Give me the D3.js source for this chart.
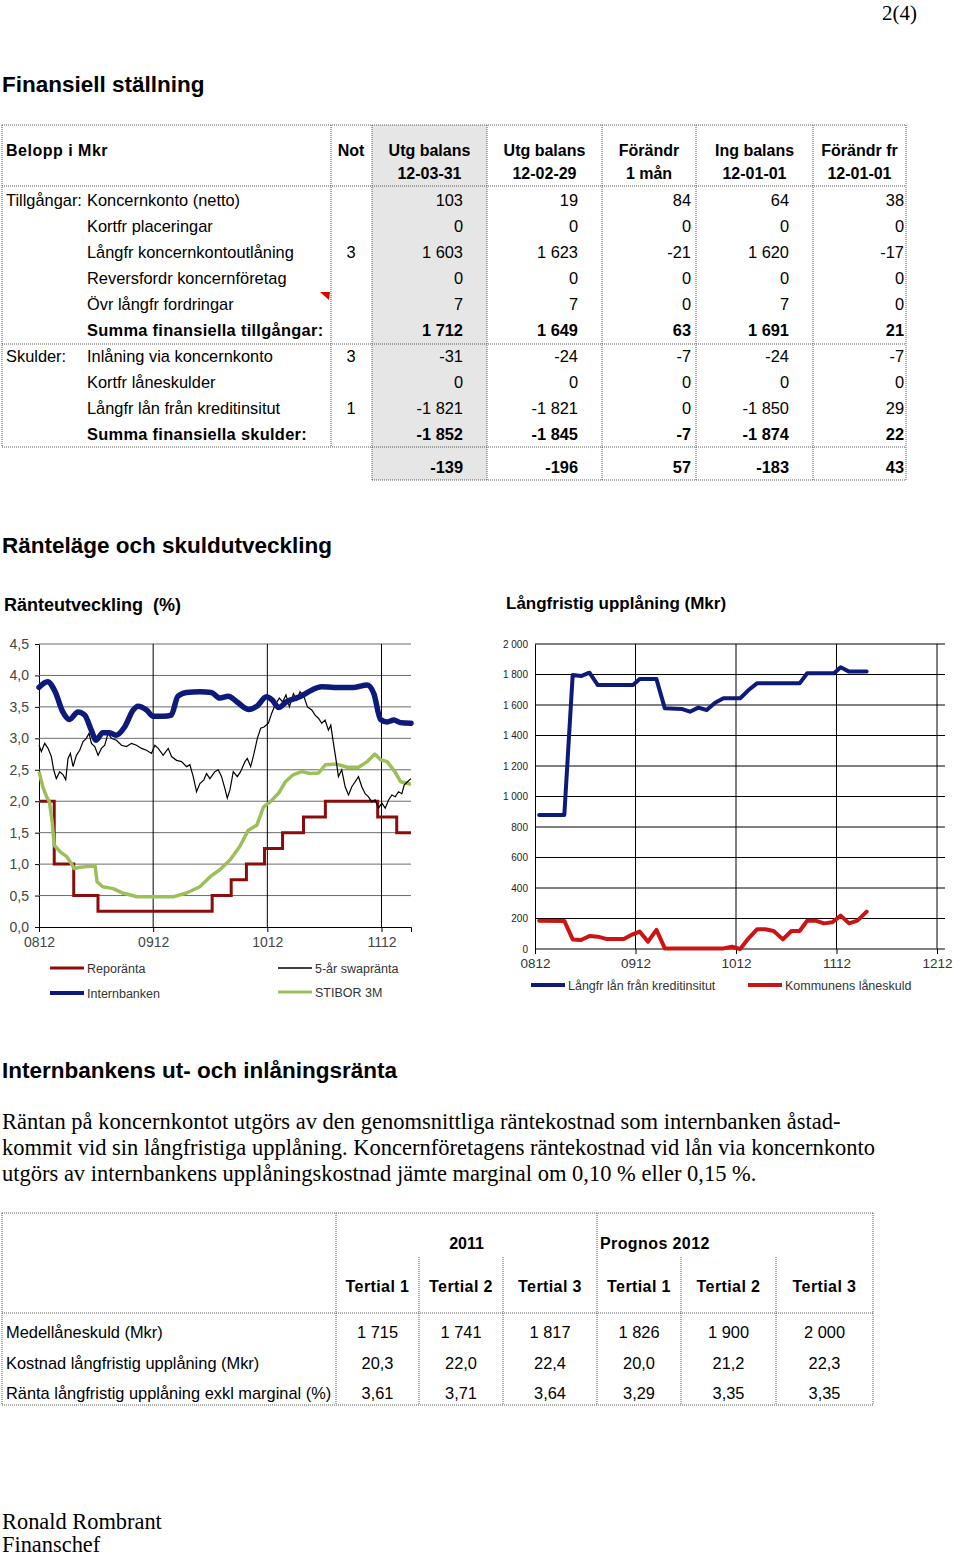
<!DOCTYPE html>
<html>
<head>
<meta charset="utf-8">
<script src="https://cdn.jsdelivr.net/npm/d3@7"></script>
<style>
  body { margin: 0; background: #fff; }
  svg { display: block; }
  text { font-family: "Liberation Sans", Arial, sans-serif; fill: #000; }
  .serif { font-family: "Liberation Serif", "Times New Roman", serif; }
</style>
</head>
<body>
<div id="page"></div>
<script>
// ---- top table: Finansiell ställning ----
var headLine1 = ["Utg balans", "Utg balans", "Förändr", "Ing balans", "Förändr fr"];
var headLine2 = ["12-03-31", "12-02-29", "1 mån", "12-01-01", "12-01-01"];
var rowGroups = ["Tillgångar:", "", "", "", "", "", "Skulder:", "", "", ""];
var rowLabels = ["Koncernkonto (netto)", "Kortfr placeringar", "Långfr koncernkontoutlåning",
  "Reversfordr koncernföretag", "Övr långfr fordringar", "Summa finansiella tillgångar:",
  "Inlåning via koncernkonto", "Kortfr låneskulder", "Långfr lån från kreditinsitut",
  "Summa finansiella skulder:"];
var rowNotes = ["", "", "3", "", "", "", "3", "", "1", ""];
var sumRows = [5, 9];
var utg120331 = [103, 0, 1603, 0, 7, 1712, -31, 0, -1821, -1852];
var utg120229 = [19, 0, 1623, 0, 7, 1649, -24, 0, -1821, -1845];
var forandr1man = [84, 0, -21, 0, 0, 63, -7, 0, 0, -7];
var ing120101 = [64, 0, 1620, 0, 7, 1691, -24, 0, -1850, -1874];
var forandrFr = [38, 0, -17, 0, 0, 21, -7, 0, 29, 22];
var nettoRow = [-139, -196, 57, -183, 43];

// ---- Ränteutveckling (%) : x in months from 0812 ----
var rateTicks = ["0812", "0912", "1012", "1112"];
var repoMonths = [0, 1.6, 3.65, 6.2, 18.2, 20.2, 21.8, 23.7, 25.6, 27.8, 30.1, 35.6, 37.6, 39.1];
var repoValues = [2.0, 1.0, 0.5, 0.25, 0.5, 0.75, 1.0, 1.25, 1.5, 1.75, 2.0, 1.75, 1.5, 1.5];

var ibMonths = [0, 0.9, 1.7, 2.5, 3.2, 4.1, 4.8, 5.5, 6.0, 6.7, 7.4, 8.1, 9.0, 9.9, 10.4,
  11.3, 12.0, 13.1, 13.9, 14.6, 15.5, 16.9, 18.1, 19.0, 19.9, 20.8, 22.0, 22.9, 23.9, 24.5,
  25.2, 26.0, 27.4, 28.7, 29.7, 31.0, 33.1, 34.5, 35.2, 35.9, 36.6, 37.3, 38.0, 39.1];
var ibValues = [3.81, 3.90, 3.74, 3.42, 3.30, 3.42, 3.37, 3.13, 2.97, 3.09, 3.09, 3.05, 3.18, 3.45, 3.51,
  3.45, 3.35, 3.35, 3.37, 3.67, 3.73, 3.74, 3.73, 3.64, 3.67, 3.58, 3.46, 3.51, 3.66, 3.61,
  3.49, 3.58, 3.66, 3.77, 3.82, 3.81, 3.81, 3.85, 3.71, 3.30, 3.26, 3.29, 3.25, 3.24];

var stiborMonths = [0, 0.4, 0.8, 1.1, 1.4, 1.6, 2.2, 2.9, 3.4, 3.7,
  4.3, 5.0, 5.9, 6.1, 6.7, 7.8, 8.8, 10.3, 12.0, 14.1,
  15.5, 16.9, 18.0, 19.0, 20.1, 21.1, 22.0, 22.9, 23.6, 24.3,
  25.2, 25.9, 26.7, 27.6, 28.5, 29.4, 30.1, 31.3, 32.4, 33.6,
  34.5, 35.3, 35.9, 36.6, 37.4, 38.0, 39.1];
var stiborValues = [2.47, 2.23, 2.07, 1.99, 1.65, 1.30, 1.20, 1.12, 1.01, 0.93,
  0.95, 0.96, 0.97, 0.72, 0.64, 0.61, 0.54, 0.48, 0.48, 0.48,
  0.54, 0.64, 0.80, 0.91, 1.07, 1.28, 1.54, 1.62, 1.91, 1.99,
  2.13, 2.31, 2.42, 2.47, 2.44, 2.45, 2.58, 2.59, 2.54, 2.54,
  2.63, 2.75, 2.66, 2.63, 2.47, 2.31, 2.27];

var swapMonths = [0.0, 0.25, 0.6, 0.95, 1.3, 1.54, 1.82, 2.18, 2.53, 2.81,
  3.05, 3.3, 3.58, 3.93, 4.28, 4.63, 4.98, 5.26, 5.51, 5.86,
  6.21, 6.56, 6.91, 7.26, 7.61, 8.14, 8.67, 9.19, 9.72, 10.25,
  10.77, 11.3, 11.82, 12.18, 12.53, 13.05, 13.58, 13.93, 14.46, 14.98,
  15.51, 15.86, 16.21, 16.56, 16.91, 17.33, 17.61, 17.96, 18.49, 18.84,
  19.19, 19.54, 19.79, 20.07, 20.42, 20.84, 21.19, 21.65, 21.89, 22.25,
  22.6, 22.95, 23.3, 23.65, 24.11, 24.46, 24.81, 25.26, 25.61, 25.96,
  26.32, 26.74, 27.09, 27.44, 27.86, 28.21, 28.67, 29.02, 29.37, 29.72,
  30.07, 30.42, 30.67, 30.95, 31.23, 31.47, 31.82, 32.18, 32.53, 32.88,
  33.23, 33.58, 33.93, 34.28, 34.63, 34.98, 35.33, 35.68, 36.04, 36.39,
  36.74, 37.09, 37.44, 37.79, 38.14, 38.39, 38.74, 39.09];
var swapValues = [2.89, 2.79, 2.92, 2.84, 2.71, 2.50, 2.36, 2.47, 2.42, 2.34,
  2.68, 2.76, 2.55, 2.73, 2.81, 2.95, 3.00, 3.08, 2.92, 2.87,
  2.73, 2.84, 2.89, 3.08, 3.00, 2.97, 2.89, 2.87, 2.92, 2.89,
  2.84, 2.81, 2.76, 2.89, 2.84, 2.73, 2.84, 2.71, 2.65, 2.63,
  2.55, 2.58, 2.39, 2.15, 2.28, 2.34, 2.44, 2.36, 2.47, 2.50,
  2.39, 2.20, 2.05, 2.18, 2.47, 2.39, 2.47, 2.63, 2.68, 2.55,
  2.76, 3.00, 3.16, 3.18, 3.24, 3.40, 3.53, 3.64, 3.58, 3.69,
  3.50, 3.71, 3.61, 3.74, 3.66, 3.50, 3.45, 3.37, 3.32, 3.24,
  3.29, 3.13, 3.21, 2.92, 2.65, 2.39, 2.50, 2.23, 2.10, 2.23,
  2.31, 2.39, 2.23, 2.12, 2.07, 1.99, 2.02, 1.89, 1.97, 1.89,
  2.02, 2.10, 2.07, 2.15, 2.12, 2.26, 2.31, 2.36];

// ---- Långfristig upplåning (Mkr) ----
var loanTicks = ["0812", "0912", "1012", "1112", "1212"];
var kreditMonths = [0.5, 3.5, 4.5, 5.5, 6.5, 7.5, 11.7, 12.5, 14.5, 15.5, 17.5, 18.5, 19.5,
  20.5, 21.5, 22.5, 24.5, 25.5, 26.5, 31.6, 32.5, 35.7, 36.5, 37.5, 39.6];
var kreditValues = [879, 879, 1797, 1790, 1812, 1731, 1731, 1770, 1770, 1578, 1574, 1556, 1583,
  1567, 1615, 1644, 1644, 1698, 1742, 1742, 1808, 1808, 1847, 1819, 1819];
var skuldMonths = [0.5, 3.5, 4.5, 5.5, 6.5, 7.5, 8.5, 10.6, 11.5, 12.5, 13.5, 14.5, 15.5, 22.5,
  23.5, 24.5, 25.5, 26.5, 27.5, 28.5, 29.6, 30.6, 31.6, 32.5, 33.5, 34.5, 35.5, 36.5, 37.5, 38.5, 39.6];
var skuldValues = [186, 184, 63, 59, 85, 81, 66, 66, 92, 114, 48, 125, 4, 4,
  15, 0, 70, 129, 129, 118, 63, 118, 118, 186, 186, 168, 175, 219, 168, 186, 245];

// ---- bottom table ----
var yearHeads = ["2011", "Prognos 2012"];
var tertials = ["Tertial 1", "Tertial 2", "Tertial 3", "Tertial 1", "Tertial 2", "Tertial 3"];
var costLabels = ["Medellåneskuld (Mkr)", "Kostnad långfristig upplåning (Mkr)",
  "Ränta långfristig upplåning exkl marginal (%)"];
var medelSkuld = [1715, 1741, 1817, 1826, 1900, 2000];
var kostnad = [20.3, 22.0, 22.4, 20.0, 21.2, 22.3];
var rantaExkl = [3.61, 3.71, 3.64, 3.29, 3.35, 3.35];

var paragraph = [
  "Räntan på koncernkontot utgörs av den genomsnittliga räntekostnad som internbanken åstad-",
  "kommit vid sin långfristiga upplåning. Koncernföretagens räntekostnad vid lån via koncernkonto",
  "utgörs av internbankens upplåningskostnad jämte marginal om 0,10 % eller 0,15 %."
];

var se = d3.formatLocale({decimal: ",", thousands: " ", grouping: [3], currency: ["", ""], minus: "-"});
var fmtInt = se.format(",d");
var fmt1 = se.format(",.1f");
var fmt2 = se.format(",.2f");

var bodySize = '16.4px';

var svg = d3.select('#page').append('svg')
  .attr('width', 960)
  .attr('height', 1558);

var dot = {stroke: "#555", dash: "1,1"};
function hline(g, x1, x2, y) {
  g.append('line').attr('x1', x1).attr('x2', x2).attr('y1', y).attr('y2', y)
    .attr('stroke', dot.stroke).attr('stroke-dasharray', dot.dash);
}
function vline(g, x, y1, y2) {
  g.append('line').attr('x1', x).attr('x2', x).attr('y1', y1).attr('y2', y2)
    .attr('stroke', dot.stroke).attr('stroke-dasharray', dot.dash);
}

// page number + headings
svg.append('text').attr('class', 'serif').attr('x', 917).attr('y', 20)
  .attr('text-anchor', 'end').style('font-size', '21px').text('2(4)');

function heading(t, y) {
  svg.append('text').attr('x', 2).attr('y', y)
    .style('font-size', '22.5px').style('font-weight', 'bold').text(t);
}
heading('Finansiell ställning', 92);
heading('Ränteläge och skuldutveckling', 553);
heading('Internbankens ut- och inlåningsränta', 1078);

// ================= table 1 =================
var t1 = svg.append('g');
var colEdges = [372, 487, 602, 696, 813, 906];
var numRight = [463, 578, 691, 789, 904];
var rowY = d3.scaleLinear().domain([0, 1]).range([206, 232]);

t1.append('rect').attr('x', colEdges[0]).attr('y', 125)
  .attr('width', colEdges[1] - colEdges[0]).attr('height', 355).attr('fill', '#e6e6e6');

hline(t1, 2, 906, 125);
hline(t1, 2, 906, 186);
hline(t1, 2, 906, 344);
hline(t1, 2, 906, 447);
hline(t1, 372, 906, 480);
vline(t1, 2, 125, 447);
vline(t1, 331, 125, 447);
colEdges.forEach(function(x) { vline(t1, x, 125, 480); });

t1.append('text').attr('x', 6).attr('y', 156)
  .style('font-size', '16px').style('font-weight', 'bold').style('letter-spacing', '0.5px')
  .text('Belopp i Mkr');
t1.append('text').attr('x', 351).attr('y', 156).attr('text-anchor', 'middle')
  .style('font-size', '16px').style('font-weight', 'bold').text('Not');

t1.selectAll('.h1').data(headLine1).enter().append('text')
  .attr('x', function(d, i) { return (colEdges[i] + colEdges[i + 1]) / 2; })
  .attr('y', 156).attr('text-anchor', 'middle')
  .style('font-size', '16px').style('font-weight', 'bold').text(function(d) { return d; });
t1.selectAll('.h2').data(headLine2).enter().append('text')
  .attr('x', function(d, i) { return (colEdges[i] + colEdges[i + 1]) / 2; })
  .attr('y', 179).attr('text-anchor', 'middle')
  .style('font-size', '16px').style('font-weight', 'bold').text(function(d) { return d; });

t1.selectAll('.grp').data(rowGroups).enter().append('text')
  .attr('x', 6).attr('y', function(d, i) { return rowY(i); })
  .style('font-size', bodySize).text(function(d) { return d; });

t1.selectAll('.lbl').data(rowLabels).enter().append('text')
  .attr('x', 87).attr('y', function(d, i) { return rowY(i); })
  .style('font-size', bodySize)
  .style('font-weight', function(d, i) { return sumRows.indexOf(i) >= 0 ? 'bold' : 'normal'; })
  .style('letter-spacing', function(d, i) { return sumRows.indexOf(i) >= 0 ? '0.3px' : '0px'; })
  .text(function(d) { return d; });

t1.selectAll('.note').data(rowNotes).enter().append('text')
  .attr('x', 351).attr('y', function(d, i) { return rowY(i); }).attr('text-anchor', 'middle')
  .style('font-size', bodySize).text(function(d) { return d; });

[utg120331, utg120229, forandr1man, ing120101, forandrFr].forEach(function(col, c) {
  t1.selectAll('.c' + c).data(col).enter().append('text')
    .attr('x', numRight[c]).attr('y', function(d, i) { return rowY(i); })
    .attr('text-anchor', 'end').style('font-size', bodySize)
    .style('font-weight', function(d, i) { return sumRows.indexOf(i) >= 0 ? 'bold' : 'normal'; })
    .text(function(d) { return fmtInt(d); });
});
t1.selectAll('.net').data(nettoRow).enter().append('text')
  .attr('x', function(d, i) { return numRight[i]; }).attr('y', 473)
  .attr('text-anchor', 'end').style('font-size', bodySize).style('font-weight', 'bold')
  .text(function(d) { return fmtInt(d); });

// comment marker
t1.append('path').attr('d', 'M320,292 L330,292 L329,300 Z').attr('fill', '#e00000');

// ================= chart 1: Ränteutveckling =================
var c1 = svg.append('g');
c1.append('text').attr('x', 4).attr('y', 611)
  .style('font-size', '18px').style('font-weight', 'bold').style('white-space', 'pre')
  .text('Ränteutveckling  (%)');

var x1 = d3.scaleLinear().domain([0, 39.1]).range([39, 411]);
var y1 = d3.scaleLinear().domain([0, 4.5]).range([927, 644]);

var yAxis1 = d3.axisLeft(y1).tickValues(d3.range(0, 4.51, 0.5)).tickSize(4)
  .tickFormat(se.format(",.1f"));
var gy1 = c1.append('g').attr('transform', 'translate(39,0)').call(yAxis1);
gy1.select('.domain').attr('stroke', '#000');
gy1.selectAll('.tick line').attr('stroke', '#000');
gy1.selectAll('.tick text').attr('x', -10).style('font-size', '14px').style('fill', '#444')
  .style('font-family', '"Liberation Sans", Arial, sans-serif');

c1.append('g').selectAll('line').data(d3.range(0.5, 4.51, 0.5)).enter().append('line')
  .attr('x1', 39).attr('x2', 411)
  .attr('y1', function(d) { return y1(d); }).attr('y2', function(d) { return y1(d); })
  .attr('stroke', '#6b6b6b').attr('stroke-width', 1);

var xAxis1 = d3.axisBottom(x1).tickValues([0, 12, 24, 36]).tickSize(5)
  .tickFormat(function(d, i) { return rateTicks[i]; });
var gx1 = c1.append('g').attr('transform', 'translate(0,927)').call(xAxis1);
gx1.select('.domain').attr('stroke', '#000');
gx1.selectAll('.tick text').attr('y', 10).style('font-size', '14px').style('fill', '#444')
  .style('font-family', '"Liberation Sans", Arial, sans-serif');

c1.append('g').selectAll('line').data([12, 24, 36]).enter().append('line')
  .attr('x1', function(d) { return x1(d); }).attr('x2', function(d) { return x1(d); })
  .attr('y1', 644).attr('y2', 927).attr('stroke', '#000');

function pairs(a, b) { return a.map(function(m, i) { return [m, b[i]]; }); }

var stepLine = d3.line().x(function(d) { return x1(d[0]); }).y(function(d) { return y1(d[1]); })
  .curve(d3.curveStepAfter);
var smooth1 = d3.line().x(function(d) { return x1(d[0]); }).y(function(d) { return y1(d[1]); })
  .curve(d3.curveMonotoneX);
var line1 = d3.line().x(function(d) { return x1(d[0]); }).y(function(d) { return y1(d[1]); });

c1.append('path').datum(pairs(repoMonths, repoValues)).attr('d', stepLine)
  .attr('fill', 'none').attr('stroke', '#8b0c0c').attr('stroke-width', 3);
c1.append('path').datum(pairs(stiborMonths, stiborValues)).attr('d', line1)
  .attr('fill', 'none').attr('stroke', '#9cbf5a').attr('stroke-width', 3.5)
  .attr('stroke-linejoin', 'round');
c1.append('path').datum(pairs(swapMonths, swapValues)).attr('d', line1)
  .attr('fill', 'none').attr('stroke', '#000').attr('stroke-width', 1.2);
c1.append('path').datum(pairs(ibMonths, ibValues)).attr('d', smooth1)
  .attr('fill', 'none').attr('stroke', '#0d1a7a').attr('stroke-width', 5.5)
  .attr('stroke-linecap', 'round');

var legend1 = [
  {name: 'Reporänta', color: '#8b0c0c', w: 3, x: 50, y: 968},
  {name: '5-år swapränta', color: '#000', w: 1.5, x: 278, y: 968},
  {name: 'Internbanken', color: '#0d1a7a', w: 4, x: 50, y: 993},
  {name: 'STIBOR 3M', color: '#9cbf5a', w: 3, x: 278, y: 992}
];
var lg1 = c1.selectAll('.lg').data(legend1).enter().append('g');
lg1.append('line').attr('x1', function(d) { return d.x; }).attr('x2', function(d) { return d.x + 34; })
  .attr('y1', function(d) { return d.y; }).attr('y2', function(d) { return d.y; })
  .attr('stroke', function(d) { return d.color; }).attr('stroke-width', function(d) { return d.w; });
lg1.append('text').attr('x', function(d) { return d.x + 37; }).attr('y', function(d) { return d.y + 4.5; })
  .style('font-size', '12.5px').style('fill', '#333').text(function(d) { return d.name; });

// ================= chart 2: Långfristig upplåning =================
var c2 = svg.append('g');
c2.append('text').attr('x', 506).attr('y', 609)
  .style('font-size', '17px').style('font-weight', 'bold').text('Långfristig upplåning (Mkr)');

var x2 = d3.scaleLinear().domain([0, 48]).range([535, 937]);
var y2 = d3.scaleLinear().domain([0, 2000]).range([949, 644]);

c2.append('g').selectAll('line').data(d3.range(200, 2001, 200)).enter().append('line')
  .attr('x1', 535).attr('x2', 945)
  .attr('y1', function(d) { return y2(d); }).attr('y2', function(d) { return y2(d); })
  .attr('stroke', '#000');
c2.append('g').selectAll('line').data([12, 24, 36, 48]).enter().append('line')
  .attr('x1', function(d) { return x2(d); }).attr('x2', function(d) { return x2(d); })
  .attr('y1', 644).attr('y2', 949).attr('stroke', '#000');

var yAxis2 = d3.axisLeft(y2).tickValues(d3.range(0, 2001, 200)).tickSize(0)
  .tickFormat(fmtInt);
var gy2 = c2.append('g').attr('transform', 'translate(535,0)').call(yAxis2);
gy2.select('.domain').attr('stroke', '#000');
gy2.selectAll('.tick text').attr('x', -7).style('font-size', '10px').style('fill', '#222')
  .style('font-family', '"Liberation Sans", Arial, sans-serif');

var xAxis2 = d3.axisBottom(x2).tickValues([0, 12, 24, 36, 48]).tickSize(5)
  .tickFormat(function(d, i) { return loanTicks[i]; });
var gx2 = c2.append('g').attr('transform', 'translate(0,949)').call(xAxis2);
gx2.select('.domain').attr('stroke', '#000').attr('d', 'M535,0H945');
gx2.selectAll('.tick text').attr('y', 9).style('font-size', '13.5px').style('fill', '#333')
  .style('font-family', '"Liberation Sans", Arial, sans-serif');

var line2 = d3.line().x(function(d) { return x2(d[0]); }).y(function(d) { return y2(d[1]); });
c2.append('path').datum(pairs(skuldMonths, skuldValues)).attr('d', line2)
  .attr('fill', 'none').attr('stroke', '#cc1414').attr('stroke-width', 4)
  .attr('stroke-linejoin', 'round').attr('stroke-linecap', 'round');
c2.append('path').datum(pairs(kreditMonths, kreditValues)).attr('d', line2)
  .attr('fill', 'none').attr('stroke', '#0d1a7a').attr('stroke-width', 4)
  .attr('stroke-linejoin', 'round').attr('stroke-linecap', 'round');

var legend2 = [
  {name: 'Långfr lån från kreditinsitut', color: '#0d1a7a', x: 531},
  {name: 'Kommunens låneskuld', color: '#cc1414', x: 748}
];
var lg2 = c2.selectAll('.lg').data(legend2).enter().append('g');
lg2.append('line').attr('x1', function(d) { return d.x; }).attr('x2', function(d) { return d.x + 34; })
  .attr('y1', 985).attr('y2', 985)
  .attr('stroke', function(d) { return d.color; }).attr('stroke-width', 4);
lg2.append('text').attr('x', function(d) { return d.x + 37; }).attr('y', 989.5)
  .style('font-size', '12.5px').style('fill', '#333').text(function(d) { return d.name; });

// ================= paragraph =================
svg.selectAll('.para').data(paragraph).enter().append('text').attr('class', 'serif')
  .attr('x', 2).attr('y', function(d, i) { return 1129 + i * 26; })
  .style('font-size', '22.5px').text(function(d) { return d; });

// ================= table 2 =================
var t2 = svg.append('g');
var tEdges = [336, 419, 503, 597, 681, 776, 873];
var rowY2 = d3.scaleLinear().domain([0, 1]).range([1338, 1368.5]);

hline(t2, 2, 873, 1213);
hline(t2, 2, 873, 1313);
hline(t2, 2, 873, 1405);
[2, 336, 597, 873].forEach(function(x) { vline(t2, x, 1213, 1405); });
[419, 503, 681, 776].forEach(function(x) { vline(t2, x, 1257, 1405); });

t2.append('text').attr('x', (tEdges[0] + tEdges[3]) / 2).attr('y', 1249).attr('text-anchor', 'middle')
  .style('font-size', '16px').style('font-weight', 'bold').text(yearHeads[0]);
t2.append('text').attr('x', 600).attr('y', 1249)
  .style('font-size', '16px').style('font-weight', 'bold').style('letter-spacing', '0.4px')
  .text(yearHeads[1]);

t2.selectAll('.tert').data(tertials).enter().append('text')
  .attr('x', function(d, i) { return (tEdges[i] + tEdges[i + 1]) / 2; }).attr('y', 1292)
  .attr('text-anchor', 'middle').style('font-size', '16px').style('font-weight', 'bold')
  .style('letter-spacing', '0.4px').text(function(d) { return d; });

t2.selectAll('.clbl').data(costLabels).enter().append('text')
  .attr('x', 6).attr('y', function(d, i) { return rowY2(i); })
  .style('font-size', bodySize).text(function(d) { return d; });

[[medelSkuld, fmtInt], [kostnad, fmt1], [rantaExkl, fmt2]].forEach(function(r, ri) {
  t2.selectAll('.r' + ri).data(r[0]).enter().append('text')
    .attr('x', function(d, i) { return (tEdges[i] + tEdges[i + 1]) / 2; })
    .attr('y', rowY2(ri)).attr('text-anchor', 'middle').style('font-size', bodySize)
    .text(function(d) { return r[1](d); });
});

// signature
svg.append('text').attr('class', 'serif').attr('x', 2).attr('y', 1529)
  .style('font-size', '22.4px').text('Ronald Rombrant');
svg.append('text').attr('class', 'serif').attr('x', 2).attr('y', 1552)
  .style('font-size', '22.4px').text('Finanschef');
</script>
</body>
</html>
